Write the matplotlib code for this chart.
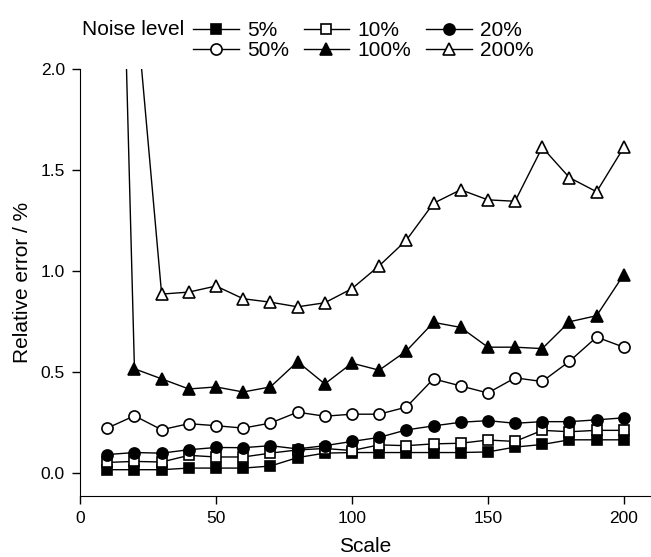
import numpy as np
import matplotlib
matplotlib.use("Agg")
import matplotlib.pyplot as plt

plt.rcParams['font.family'] = ['Liberation Sans', 'DejaVu Sans']

# scale values (x axis)
scale = [10, 20, 30, 40, 50, 60, 70, 80, 90, 100,
         110, 120, 130, 140, 150, 160, 170, 180, 190, 200]

# relative error in %, one list per noise level
err_5 = [0.015, 0.015, 0.015, 0.023, 0.023, 0.023, 0.033, 0.075, 0.097, 0.10,
         0.10, 0.10, 0.10, 0.10, 0.103, 0.127, 0.14, 0.163, 0.163, 0.163]
err_10 = [0.051, 0.056, 0.053, 0.086, 0.078, 0.078, 0.097, 0.113, 0.12, 0.11,
          0.138, 0.134, 0.143, 0.146, 0.162, 0.155, 0.21, 0.203, 0.21, 0.21]
err_20 = [0.09, 0.10, 0.097, 0.114, 0.125, 0.124, 0.134, 0.118, 0.134, 0.155,
          0.175, 0.212, 0.232, 0.25, 0.258, 0.245, 0.253, 0.253, 0.262, 0.272]
err_50 = [0.221, 0.282, 0.213, 0.243, 0.233, 0.221, 0.246, 0.30, 0.28, 0.29,
          0.29, 0.325, 0.465, 0.43, 0.395, 0.47, 0.452, 0.552, 0.672, 0.622]
err_100 = [5.6, 0.515, 0.465, 0.415, 0.425, 0.40, 0.425, 0.55, 0.44, 0.543,
           0.508, 0.603, 0.745, 0.72, 0.622, 0.622, 0.615, 0.748, 0.778, 0.982]
err_200 = [3.5, 2.4, 0.885, 0.895, 0.925, 0.862, 0.845, 0.822, 0.842, 0.912,
           1.025, 1.152, 1.335, 1.402, 1.352, 1.345, 1.612, 1.462, 1.392, 1.612]

labels = ['5%', '10%', '20%', '50%', '100%', '200%']
series = [err_5, err_10, err_20, err_50, err_100, err_200]
markers = ['s', 's', 'o', 'o', '^', '^']
faces = ['black', 'white', 'black', 'white', 'black', 'white']
sizes = [7, 7, 8, 8, 8.5, 8.5]

fig = plt.figure(figsize=(6.51, 5.57), dpi=100)
ax = fig.add_axes([0.123, 0.11, 0.877, 0.766])

handles = []
for vals, lab, m, fc, ms in zip(series, labels, markers, faces, sizes):
    h, = ax.plot(scale, vals, color='black', lw=1.0, marker=m, ms=ms,
                 mfc=fc, mec='black', mew=1.2, label=lab, clip_on=True)
    handles.append(h)

ax.set_xlim(0, 210)
ax.set_ylim(-0.114, 2.0)
ax.set_xticks([0, 50, 100, 150, 200])
ax.set_yticks([0.0, 0.5, 1.0, 1.5, 2.0])
ax.set_yticklabels(['0.0', '0.5', '1.0', '1.5', '2.0'])
ax.spines['top'].set_visible(False)
ax.spines['right'].set_visible(False)
ax.tick_params(direction='out', length=6, width=1, labelsize=12.5, pad=5)
ax.set_xlabel('Scale', fontsize=15, labelpad=8)
ax.set_ylabel('Relative error / %', fontsize=15, labelpad=6)

# legend: 2 rows of 3, filled column by column
order = [0, 3, 1, 4, 2, 5]
fig.text(0.126, 0.947, 'Noise level', fontsize=15, ha='left', va='center')
fig.legend([handles[i] for i in order], [labels[i] for i in order],
           ncol=3, loc='upper left', bbox_to_anchor=(0.277, 0.985),
           frameon=False, fontsize=15, handlelength=2.2, handletextpad=0.4,
           columnspacing=0.7, labelspacing=0.05, borderaxespad=0.2)

fig.savefig('out.png', dpi=100)
